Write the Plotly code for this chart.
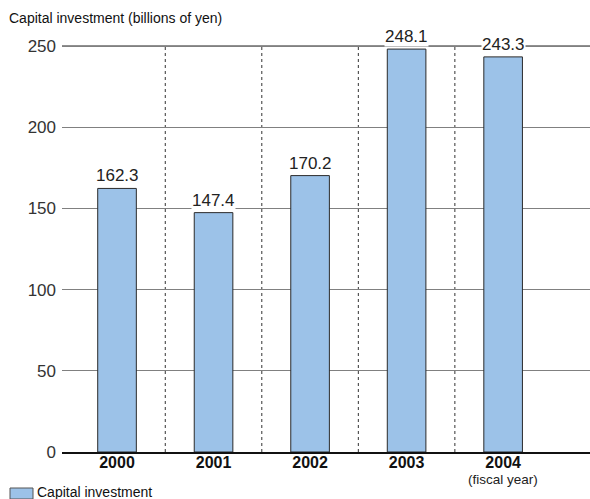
import plotly.graph_objects as go

years = ["2000", "2001", "2002", "2003", "2004"]
investment = [162.3, 147.4, 170.2, 248.1, 243.3]
y_ticks = [0, 50, 100, 150, 200, 250]

BAR_COLOR = "#9cc2e8"
FONT = "Liberation Sans, Arial, Helvetica, sans-serif"

fig = go.Figure()

fig.add_trace(go.Bar(
    x=years,
    y=investment,
    width=0.40,
    marker=dict(color=BAR_COLOR, line=dict(color="#2a2a2a", width=1)),
    name="Capital investment",
    showlegend=False,
))

# value labels above each bar, with white backing so they break the gridlines
for i, v in enumerate(investment):
    fig.add_annotation(
        x=i, y=v, xref="x", yref="y", text=f"{v:.1f}", showarrow=False,
        yanchor="bottom", yshift=2,
        font=dict(size=17, color="#222", family=FONT),
        bgcolor="white", borderpad=0,
    )

# dashed separators between fiscal years
for i in range(len(years) - 1):
    fig.add_shape(
        type="line", xref="x", yref="y",
        x0=i + 0.5, x1=i + 0.5, y0=0, y1=y_ticks[-1],
        line=dict(color="#333", width=1, dash="3px,3px"),
        layer="below",
    )

# top reference line drawn darker
fig.add_shape(
    type="line", xref="paper", yref="y",
    x0=0, x1=1, y0=y_ticks[-1], y1=y_ticks[-1],
    line=dict(color="#222", width=1.2), layer="below",
)

fig.update_layout(
    width=590, height=499,
    margin=dict(l=62, r=0, t=40, b=47),
    plot_bgcolor="white", paper_bgcolor="white",
    font=dict(family=FONT, color="#222"),
    bargap=0.6,
    xaxis=dict(
        type="category",
        range=[-0.57, 4.9],
        tickvals=years,
        ticktext=[f"<b>{y}</b>" for y in years],
        tickfont=dict(size=16, color="#111", family=FONT),
        showline=True, linecolor="#111", linewidth=1.5,
        showgrid=False, ticks="", ticklen=0,
        ticklabelstandoff=-5,
    ),
    yaxis=dict(
        range=[0, 253.7],
        tickvals=y_ticks,
        tickfont=dict(size=17, color="#333", family=FONT),
        showgrid=True, gridcolor="#808080", gridwidth=1,
        zeroline=False, showline=False, ticks="",
        ticklabelstandoff=5,
    ),
    showlegend=False,
)

fig.add_annotation(
    xref="paper", yref="paper", x=-55 / 528, y=1 + 22 / 412,
    text="Capital investment (billions of yen)", showarrow=False,
    xanchor="left", yanchor="middle",
    font=dict(size=14, color="#111", family=FONT),
)

fig.add_annotation(
    xref="x", yref="paper", x=4, y=-27 / 412,
    text="(fiscal year)", showarrow=False, yanchor="middle",
    font=dict(size=13.5, color="#222", family=FONT),
)

# legend key
fig.add_shape(
    type="rect", xref="paper", yref="paper",
    x0=-52 / 528, x1=-29 / 528, y0=-47 / 412, y1=-36 / 412,
    fillcolor=BAR_COLOR, line=dict(color="#555", width=1),
)
fig.add_annotation(
    xref="paper", yref="paper", x=-27 / 528, y=-40 / 412,
    text="Capital investment", showarrow=False,
    xanchor="left", yanchor="middle",
    font=dict(size=14, color="#111", family=FONT),
)

fig.write_html("out.html")
